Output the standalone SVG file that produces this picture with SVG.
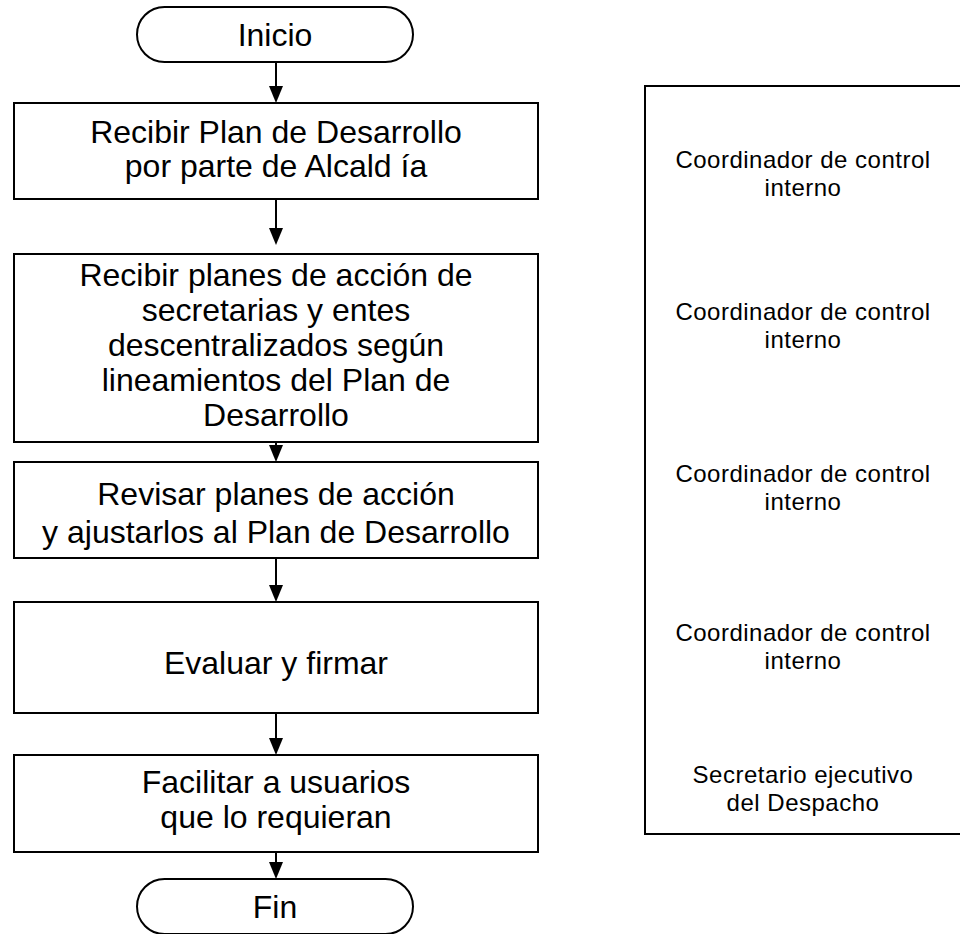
<svg xmlns="http://www.w3.org/2000/svg" width="960" height="934" viewBox="0 0 960 934">
<style>
.box{fill:#fff;stroke:#000;stroke-width:2}
.t{font-family:"Liberation Sans",Arial,sans-serif;font-size:32px;fill:#000;text-anchor:middle}
.r{font-family:"Liberation Sans",Arial,sans-serif;font-size:24px;letter-spacing:0.5px;fill:#000;text-anchor:middle}
.c{stroke:#000;stroke-width:2;fill:none}
.h{fill:#000}
</style>
<rect width="960" height="934" fill="#fff"/>
<g id="connectors">
<path class="c" d="M276,62 V86"/><path class="h" d="M269,86 L283,86 L276,103 Z"/>
<path class="c" d="M276,199 V228"/><path class="h" d="M269,228 L283,228 L276,245 Z"/>
<path class="c" d="M276,442 V445"/><path class="h" d="M269,445 L283,445 L276,462 Z"/>
<path class="c" d="M276,558 V585"/><path class="h" d="M269,585 L283,585 L276,602 Z"/>
<path class="c" d="M276,713 V738"/><path class="h" d="M269,738 L283,738 L276,755 Z"/>
<path class="c" d="M276,852 V862"/><path class="h" d="M269,862 L283,862 L276,879 Z"/>
</g>
<g id="inicio"><rect class="box" x="137" y="7" width="276" height="55" rx="27.5"/><text class="t" x="275" y="46">Inicio</text></g>
<g id="n1"><rect class="box" x="14" y="103" width="524" height="96"/>
<text class="t" x="276" y="143">Recibir Plan de Desarrollo</text><text class="t" x="276" y="177">por parte de Alcald ía</text></g>
<g id="n2"><rect class="box" x="14" y="254" width="524" height="188"/>
<text class="t" x="276" y="286">Recibir planes de acción de</text>
<text class="t" x="276" y="321">secretarias y entes</text>
<text class="t" x="276" y="356">descentralizados según</text>
<text class="t" x="276" y="391">lineamientos del Plan de</text>
<text class="t" x="276" y="426">Desarrollo</text></g>
<g id="n3"><rect class="box" x="14" y="462" width="524" height="96"/>
<text class="t" x="276" y="505">Revisar planes de acción</text><text class="t" x="276" y="543">y ajustarlos al Plan de Desarrollo</text></g>
<g id="n4"><rect class="box" x="14" y="602" width="524" height="111"/>
<text class="t" x="276" y="674">Evaluar y firmar</text></g>
<g id="n5"><rect class="box" x="14" y="755" width="524" height="97"/>
<text class="t" x="276" y="793">Facilitar a usuarios</text><text class="t" x="276" y="828">que lo requieran</text></g>
<g id="fin"><rect class="box" x="137" y="879" width="276" height="55" rx="27.5"/><text class="t" x="275" y="918">Fin</text></g>
<g id="roles"><rect class="box" x="645" y="86" width="330" height="748"/>
<text class="r" x="803" y="168">Coordinador de control</text><text class="r" x="803" y="196">interno</text>
<text class="r" x="803" y="320">Coordinador de control</text><text class="r" x="803" y="348">interno</text>
<text class="r" x="803" y="482">Coordinador de control</text><text class="r" x="803" y="510">interno</text>
<text class="r" x="803" y="641">Coordinador de control</text><text class="r" x="803" y="669">interno</text>
<text class="r" x="803" y="783">Secretario ejecutivo</text><text class="r" x="803" y="811">del Despacho</text></g>
</svg>
